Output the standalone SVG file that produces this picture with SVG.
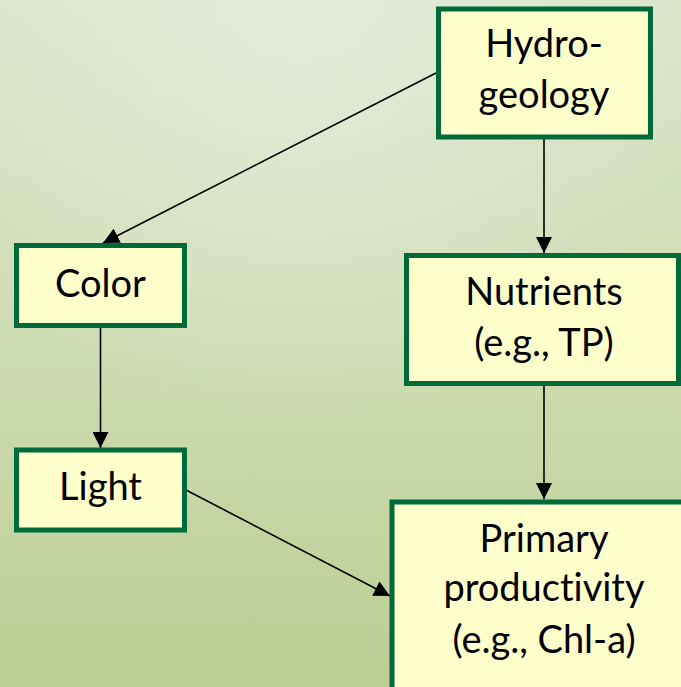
<svg xmlns="http://www.w3.org/2000/svg" width="681" height="687" viewBox="0 0 681 687">
  <defs>
    <linearGradient id="bg" x1="0" y1="0" x2="0" y2="1">
      <stop offset="0" stop-color="#dae5c9"/>
      <stop offset="0.5" stop-color="#cedcb2"/>
      <stop offset="1" stop-color="#bbce93"/>
    </linearGradient>
    <radialGradient id="glow" cx="300" cy="0" r="420" gradientUnits="userSpaceOnUse">
      <stop offset="0" stop-color="#e6ecdc" stop-opacity="0.85"/>
      <stop offset="1" stop-color="#e6ecdc" stop-opacity="0"/>
    </radialGradient>
    <marker id="arrow" viewBox="0 0 16 16" refX="16" refY="8" markerWidth="16" markerHeight="16" markerUnits="userSpaceOnUse" orient="auto">
      <path d="M0,0 L16,8 L0,16 Z" fill="#000"/>
    </marker>
  </defs>
  <style>
    .box { fill: #ffffcc; stroke: #006a3a; stroke-width: 5; }
    .lbl { font-family: Lato, "Liberation Sans", sans-serif; font-size: 38px; fill: #000; text-anchor: middle; font-variant-ligatures: none; font-feature-settings: "liga" 0; }
    .edge { stroke: #000; stroke-width: 1.6; fill: none; marker-end: url(#arrow); }
  </style>

  <rect width="681" height="687" fill="url(#bg)"/>
  <rect width="681" height="687" fill="url(#glow)"/>

  <g id="connectors">
    <line class="edge" x1="436" y1="73" x2="103" y2="243"/>
    <line class="edge" x1="544" y1="139" x2="544" y2="253"/>
    <line class="edge" x1="544" y1="386" x2="544" y2="499"/>
    <line class="edge" x1="100.5" y1="328" x2="100.5" y2="448"/>
    <line class="edge" x1="186" y1="490" x2="390" y2="596"/>
  </g>

  <g id="hydrogeology">
    <rect class="box" x="438.5" y="9" width="212" height="128"/>
    <text class="lbl" x="544" y="57">Hydro-</text>
    <text class="lbl" x="544" y="108">geology</text>
  </g>

  <g id="color">
    <rect class="box" x="16.5" y="245.5" width="168" height="80"/>
    <text class="lbl" x="100.5" y="297">Color</text>
  </g>

  <g id="light">
    <rect class="box" x="16.5" y="450" width="168" height="80"/>
    <text class="lbl" x="100.5" y="500">Light</text>
  </g>

  <g id="nutrients">
    <rect class="box" x="406.5" y="255.5" width="272" height="128"/>
    <text class="lbl" x="544" y="305">Nutrients</text>
    <text class="lbl" x="544" y="356">(e.g., TP)</text>
  </g>

  <g id="primary-productivity">
    <rect class="box" x="392" y="502" width="300" height="200"/>
    <text class="lbl" x="544" y="552">Primary</text>
    <text class="lbl" x="544" y="601">productivity</text>
    <text class="lbl" x="544" y="653">(e.g., Chl-a)</text>
  </g>
</svg>
